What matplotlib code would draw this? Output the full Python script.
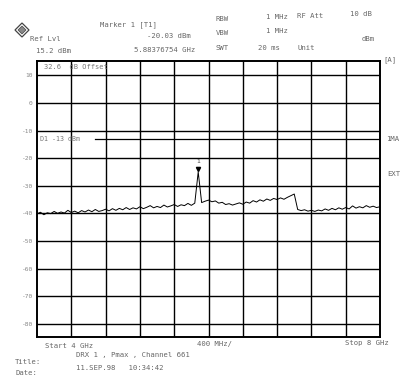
import numpy as np
import matplotlib
matplotlib.use("Agg")
import matplotlib.pyplot as plt
from matplotlib.patches import Polygon

# ---- data ----
f_start_ghz = 4.0
f_stop_ghz = 8.0
f_step_ghz = 0.04
level_dbm = [
    -40.2, -39.6, -40.5, -39.8, -40.1, -39.3, -40.0, -39.5, -39.9, -38.9,
    -39.7, -39.2, -39.8, -39.0, -39.5, -38.8, -39.4, -38.6, -39.3, -39.0,
    -38.5, -39.1, -38.3, -38.9, -38.2, -38.7, -37.9, -38.6, -38.0, -38.4,
    -37.6, -38.3, -37.8, -37.2, -38.0, -37.5, -37.9, -37.0, -37.7, -37.3,
    -36.8, -37.5, -36.9, -37.2, -36.4, -37.1, -36.3, -25.0, -36.1, -35.6,
    -35.2, -35.8, -35.5, -36.3, -36.0, -36.8, -36.5, -37.0, -36.6, -36.2,
    -36.7, -35.9, -36.3, -35.4, -35.9, -35.1, -35.6, -34.8, -35.3, -34.6,
    -35.0, -34.4, -34.9, -34.2, -33.6, -33.0, -38.6, -39.0, -38.7, -39.2,
    -38.9, -39.3, -38.8, -39.1, -38.4, -38.9, -38.2, -38.7, -38.0, -38.5,
    -37.9, -38.4, -37.3, -38.1, -37.6, -38.0, -37.2, -37.8, -37.4, -37.9,
    -37.6,
]
ref_level = 15.2
display_line = -13.0
marker_freq = 5.88
marker_level = -25.0
y_ticks = [10, 0, -10, -20, -30, -40, -50, -60, -70, -80]
y_tick_labels = ["10", "0", "-10", "-20", "-30", "-40", "-50", "-60", "-70", "-80"]

freqs = f_start_ghz + f_step_ghz * np.arange(len(level_dbm))

W, H = 408, 380
fig = plt.figure(figsize=(W / 100, H / 100), dpi=100)
fig.patch.set_facecolor("white")

def px(x, y):
    return x / W, 1 - y / H

l, r, t, b = 37, 380, 61, 337
ax = fig.add_axes([l / W, 1 - b / H, (r - l) / W, (b - t) / H])
ax.set_xlim(f_start_ghz, f_stop_ghz)
ax.set_ylim(ref_level - 100, ref_level)

for xv in np.arange(f_start_ghz + 0.4, f_stop_ghz - 0.01, 0.4):
    ax.axvline(xv, color="black", lw=1.0, zorder=1)
for yv in y_ticks:
    ax.axhline(yv, color="black", lw=1.0, zorder=1)
for s in ax.spines.values():
    s.set_linewidth(1.4)

# display line D1
ax.plot([f_start_ghz + 0.68, f_stop_ghz], [display_line, display_line], color="black", lw=0.9, zorder=2)
ax.text(f_start_ghz + 0.04, display_line, "D1 -13 dBm", fontsize=4.8, color="#777777",
        va="center", ha="left", family="DejaVu Sans Mono")
ax.text(f_start_ghz + 0.08, 14.0, "32.6  dB Offset", fontsize=5, color="#777777",
        va="top", ha="left", family="DejaVu Sans Mono")

ax.plot(freqs, level_dbm, color="black", lw=0.7, zorder=3)

# marker
ax.plot([marker_freq], [marker_level + 1.2], marker="v", color="black", ms=3, zorder=4)
ax.text(marker_freq, marker_level + 3.0, "1", fontsize=4.5, color="#444444", ha="center", va="bottom")

ax.set_xticks([])
ax.set_yticks(y_ticks)
ax.set_yticklabels(y_tick_labels, family="DejaVu Sans Mono")
ax.tick_params(axis="y", length=0, pad=3, labelsize=4.5, labelcolor="#888888")

tc = "#666666"
fm = "DejaVu Sans Mono"
fs = 5.2

def txt(x, y, s, ha="left", size=fs, color=tc):
    fig.text(*px(x, y), s, ha=ha, va="center", fontsize=size, color=color, family=fm)

# logo (diamond)
logo = Polygon([px(15, 30), px(22, 23), px(29, 30), px(22, 37)], closed=True,
               transform=fig.transFigure, fill=False, edgecolor="#444444", lw=0.9)
fig.patches.append(logo)
logo2 = Polygon([px(18, 30), px(22, 26), px(26, 30), px(22, 34)], closed=True,
                transform=fig.transFigure, facecolor="#888888", edgecolor="#444444", lw=0.5)
fig.patches.append(logo2)

txt(30, 39, "Ref Lvl")
txt(36, 51, "15.2 dBm")
txt(100, 25, "Marker 1 [T1]")
txt(191, 36, "-20.03 dBm", ha="right")
txt(195, 50, "5.88376754 GHz", ha="right")
txt(216, 19, "RBW")
txt(216, 33, "VBW")
txt(216, 48, "SWT")
txt(288, 17, "1 MHz", ha="right")
txt(288, 31, "1 MHz", ha="right")
txt(280, 48, "20 ms", ha="right")
txt(297, 16, "RF Att")
txt(298, 48, "Unit")
txt(372, 14, "10 dB", ha="right")
txt(375, 39, "dBm", ha="right")

txt(383, 60, "[A]")
txt(386, 139, "1MA")
txt(387, 174, "EXT")

txt(45, 346, "Start 4 GHz")
txt(197, 344, "400 MHz/")
txt(389, 343, "Stop 8 GHz", ha="right")

txt(15, 362, "Title:")
txt(76, 355, "DRX 1 , Pmax , Channel 661")
txt(15, 373, "Date:")
txt(76, 368, "11.SEP.98   10:34:42")

fig.savefig("out.png", dpi=100, facecolor="white")
